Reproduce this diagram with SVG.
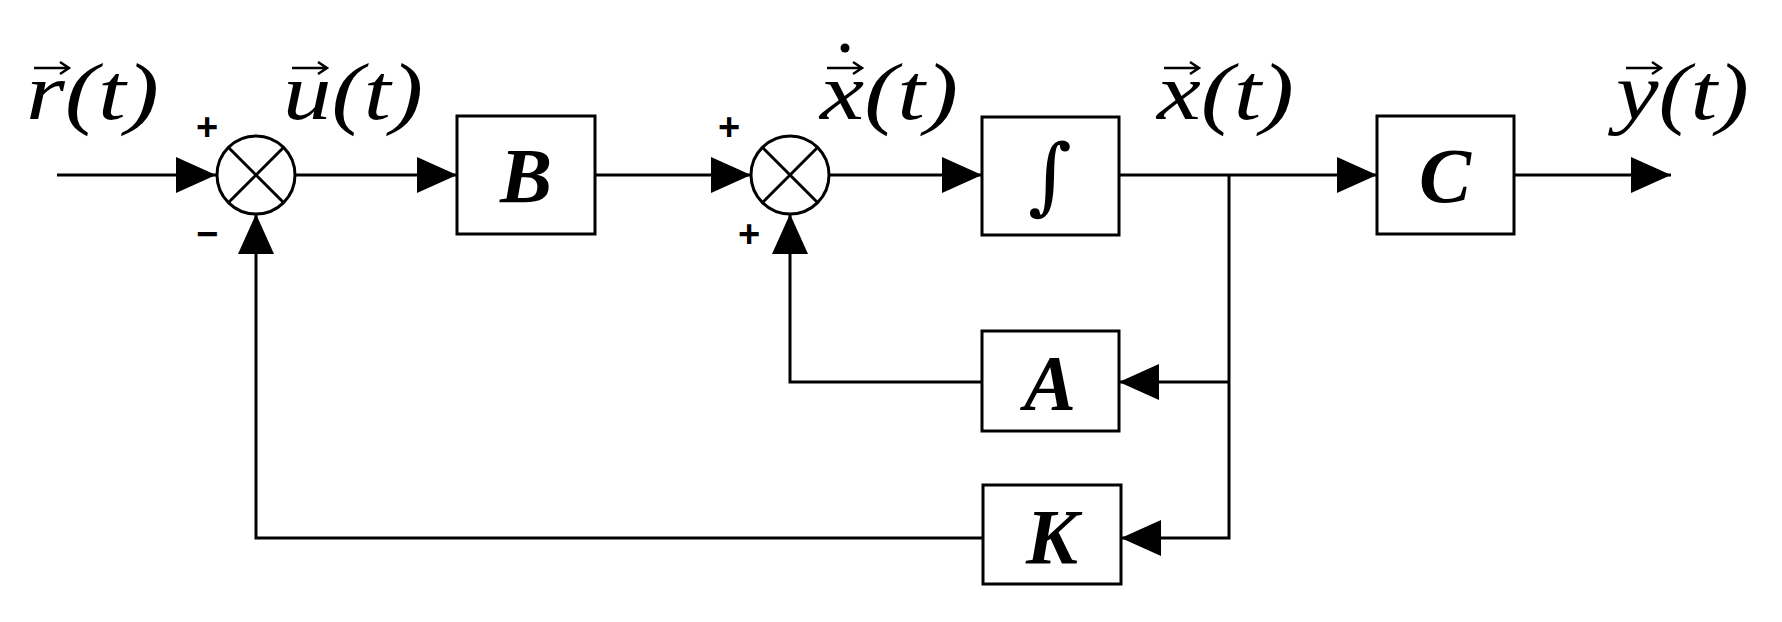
<svg xmlns="http://www.w3.org/2000/svg" width="1782" height="622" viewBox="0 0 1782 622">
<style>
.l{stroke:#000;stroke-width:3;fill:none}
.b{stroke:#000;stroke-width:3;fill:#fff}
.v{stroke:#000;stroke-width:2.5;fill:none}
.m{font-family:"Liberation Serif",serif;font-style:italic;font-weight:normal;font-size:80px}
.k{font-family:"Liberation Serif",serif;font-style:italic;font-weight:bold;font-size:78px;text-anchor:middle}
.s{font-family:"Liberation Sans",sans-serif;font-weight:bold;font-size:38px;text-anchor:middle}
</style>
<defs><marker id="ar" markerWidth="40" markerHeight="36" refX="40" refY="18" orient="auto" markerUnits="userSpaceOnUse"><path d="M0,0L40,18L0,36Z" fill="#000"/></marker></defs>
<g id="connectors">
<path class="l" d="M57,175H216" marker-end="url(#ar)"/>
<path class="l" d="M295,175H457" marker-end="url(#ar)"/>
<path class="l" d="M595,175H751" marker-end="url(#ar)"/>
<path class="l" d="M829,175H982" marker-end="url(#ar)"/>
<path class="l" d="M1119,175H1377" marker-end="url(#ar)"/>
<path class="l" d="M1514,175H1671" marker-end="url(#ar)"/>
<path class="l" d="M1229,175V538H1121" marker-end="url(#ar)"/>
<path class="l" d="M1229,382H1119" marker-end="url(#ar)"/>
<path class="l" d="M982,382H790V214" marker-end="url(#ar)"/>
<path class="l" d="M983,538H256V214" marker-end="url(#ar)"/>
</g>
<g id="sum1"><circle class="b" cx="256" cy="175" r="39"/><path class="l" d="M228,147L284,203M284,147L228,203"/></g>
<g id="sum2"><circle class="b" cx="790" cy="175" r="39"/><path class="l" d="M762,147L818,203M818,147L762,203"/></g>
<g id="B"><rect class="b" x="457" y="116" width="138" height="118"/><text class="k" x="526" y="202">B</text></g>
<g id="int"><rect class="b" x="982" y="117" width="137" height="118"/><text x="1050" y="204" font-family="DejaVu Serif,serif" font-size="84" text-anchor="middle">∫</text></g>
<g id="C"><rect class="b" x="1377" y="116" width="137" height="118"/><text class="k" x="1445" y="202">C</text></g>
<g id="A"><rect class="b" x="982" y="331" width="137" height="100"/><text class="k" x="1050" y="409">A</text></g>
<g id="K"><rect class="b" x="983" y="485" width="138" height="99"/><text class="k" x="1052" y="563">K</text></g>
<g id="labels">
<text class="m" x="26" y="119" textLength="133" lengthAdjust="spacingAndGlyphs">r(t)</text>
<path class="v" d="M34,68H68M60,62L69,68L60,74"/>
<text class="m" x="283" y="119" textLength="140" lengthAdjust="spacingAndGlyphs">u(t)</text>
<path class="v" d="M292,68H326M318,62L327,68L318,74"/>
<text class="m" x="820" y="119" textLength="138" lengthAdjust="spacingAndGlyphs">x(t)</text>
<path class="v" d="M827,68H861M853,62L862,68L853,74"/>
<circle cx="845" cy="48" r="4.5"/>
<text class="m" x="1157" y="119" textLength="137" lengthAdjust="spacingAndGlyphs">x(t)</text>
<path class="v" d="M1164,68H1198M1190,62L1199,68L1190,74"/>
<text class="m" x="1616" y="119" textLength="133" lengthAdjust="spacingAndGlyphs">y(t)</text>
<path class="v" d="M1626,68H1660M1652,62L1661,68L1652,74"/>
<text class="s" x="207" y="140">+</text>
<text class="s" x="207" y="247">−</text>
<text class="s" x="729" y="140">+</text>
<text class="s" x="749" y="247">+</text>
</g>
</svg>
